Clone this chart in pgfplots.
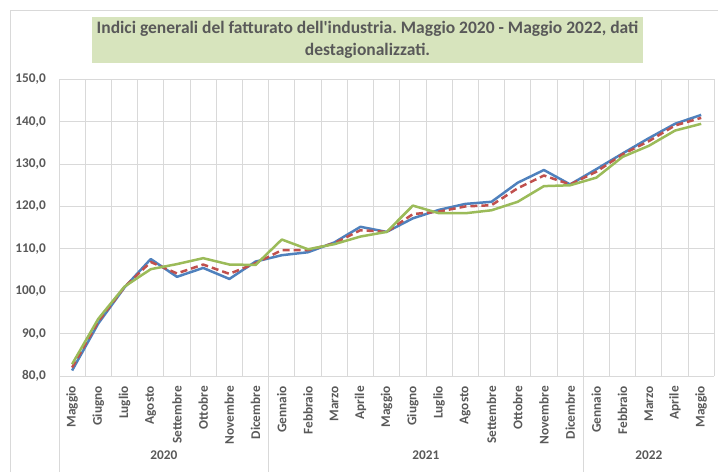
\documentclass[border=0pt]{standalone}
\usepackage{fontspec}
\setmainfont{Carlito}[Ligatures=TeXOff]
\usepackage{pgfplots}
\usepackage{pgfplotstable}
\pgfplotsset{compat=1.18}
\frenchspacing
\definecolor{txt}{HTML}{595959}
\definecolor{grd}{HTML}{D9D9D9}
\definecolor{sblue}{HTML}{4F81BD}
\definecolor{sred}{HTML}{C0504D}
\definecolor{sgreen}{HTML}{9BBB59}
\definecolor{tbox}{HTML}{D7E4BD}
\pgfplotstableread{
i blue red green
0 81.3 82.0 82.8
1 92.4 92.9 93.5
2 100.9 101.0 101.1
3 107.6 106.9 105.2
4 103.4 104.2 106.4
5 105.5 106.3 107.8
6 102.9 104.1 106.3
7 107.0 106.6 106.2
8 108.5 109.7 112.2
9 109.2 109.7 109.9
10 111.5 111.3 111.1
11 115.2 114.4 112.9
12 114.0 114.0 114.0
13 117.2 118.2 120.2
14 119.2 118.8 118.4
15 120.6 120.0 118.4
16 121.1 120.3 119.1
17 125.6 124.3 121.1
18 128.6 127.3 124.8
19 125.2 125.2 125.0
20 128.8 128.2 126.8
21 132.5 132.3 131.7
22 136.1 135.4 134.3
23 139.5 139.1 137.9
24 141.6 140.9 139.5
}\datatable
\begin{document}
\begin{tikzpicture}[x=1pt,y=1pt]
\path[use as bounding box] (0,0) rectangle (718,472);
\draw[grd, line width=1pt] (10,0) -- (10,461) -- (718,461);
\node[fill=tbox, minimum width=551pt, minimum height=46pt, inner sep=0pt, align=center,
  font=\fontsize{17.5}{22}\selectfont\bfseries, text=txt] at (367.5,432)
  {Indici generali del fatturato dell'industria. Maggio 2020 - Maggio 2022, dati\\destagionalizzati.};
\begin{axis}[
  at={(59pt,96pt)}, anchor=south west, scale only axis,
  width=655.3pt, height=296.7pt,
  xmin=-0.5, xmax=24.5, ymin=80, ymax=150,
  clip=false,
  axis line style={draw=none},
  major tick length=0pt, minor tick length=0pt,
  ytick={80,90,...,150},
  ymajorgrids, xminorgrids,
  grid style={grd, line width=0.9pt},
  minor grid style={grd, line width=0.9pt},
  xtick={0,...,24},
  minor xtick={-0.5,0.5,...,24.5},
  xticklabels={Maggio,Giugno,Luglio,Agosto,Settembre,Ottobre,Novembre,Dicembre,Gennaio,Febbraio,Marzo,Aprile,Maggio,Giugno,Luglio,Agosto,Settembre,Ottobre,Novembre,Dicembre,Gennaio,Febbraio,Marzo,Aprile,Maggio},
  xticklabel style={rotate=90, anchor=east, font=\fontsize{13.3}{15}\selectfont\bfseries, text=txt, inner sep=0pt, xshift=-10pt},
  yticklabel style={font=\fontsize{13.3}{15}\selectfont\bfseries, text=txt, inner sep=0pt, xshift=-13pt},
  /pgf/number format/.cd, fixed, fixed zerofill, precision=1, use comma, 1000 sep={}, assume math mode=true,
]
\addplot[sblue, line width=2.5pt, line join=round] table[x=i, y=blue] {\datatable};
\addplot[sred, line width=2.5pt, line join=round, dash pattern=on 7pt off 4pt] table[x=i, y=red] {\datatable};
\addplot[sgreen, line width=2.5pt, line join=round] table[x=i, y=green] {\datatable};
\draw[grd, line width=0.9pt] (axis cs:-0.5,80) -- ([yshift=-96pt]axis cs:-0.5,80);
\draw[grd, line width=0.9pt] (axis cs:7.5,80) -- ([yshift=-96pt]axis cs:7.5,80);
\draw[grd, line width=0.9pt] (axis cs:19.5,80) -- ([yshift=-96pt]axis cs:19.5,80);
\node[font=\fontsize{13.3}{15}\selectfont\bfseries, text=txt] at ([yshift=-79pt]axis cs:3.5,80) {2020};
\node[font=\fontsize{13.3}{15}\selectfont\bfseries, text=txt] at ([yshift=-79pt]axis cs:13.5,80) {2021};
\node[font=\fontsize{13.3}{15}\selectfont\bfseries, text=txt] at ([yshift=-79pt]axis cs:22,80) {2022};
\end{axis}
\end{tikzpicture}
\end{document}
